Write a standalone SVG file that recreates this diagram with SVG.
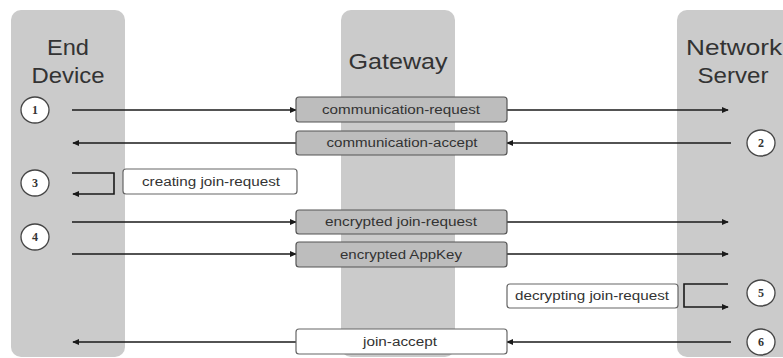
<svg xmlns="http://www.w3.org/2000/svg" width="783" height="358" viewBox="0 0 783 358">
<defs>
<style>
.lane{fill:#cbcbcb}
.title{font-family:"Liberation Sans",Arial,sans-serif;font-size:22px;fill:#333;text-anchor:middle}
.gbox{fill:#bdbdbd;stroke:#555;stroke-width:1.2}
.wbox{fill:#fff;stroke:#666;stroke-width:1.2}
.lbl{font-family:"Liberation Sans",Arial,sans-serif;font-size:12px;fill:#333;text-anchor:middle}
.num{fill:#fff;stroke:#444;stroke-width:1.3}
.numt{font-family:"Liberation Serif","Times New Roman",serif;font-size:12px;font-weight:bold;fill:#333;text-anchor:middle}
.ln{fill:none;stroke:#1a1a1a;stroke-width:1.6}
</style>
<marker id="ah" viewBox="0 0 8 8" refX="7" refY="4" markerWidth="7" markerHeight="7" markerUnits="userSpaceOnUse" orient="auto">
<path d="M0,0.5 L8,4 L0,7.5 Z" fill="#1a1a1a"/>
</marker>
</defs>
<rect width="783" height="358" fill="#fff"/>
<g id="lane-end-device">
<rect class="lane" x="11" y="10" width="114" height="347" rx="10"/>
<text class="title" x="68" y="55" textLength="42" lengthAdjust="spacingAndGlyphs">End</text>
<text class="title" x="68" y="83" textLength="73" lengthAdjust="spacingAndGlyphs">Device</text>
</g>
<g id="lane-gateway">
<rect class="lane" x="341" y="10" width="114" height="347" rx="10"/>
<text class="title" x="398" y="69" textLength="99" lengthAdjust="spacingAndGlyphs">Gateway</text>
</g>
<g id="lane-network-server">
<rect class="lane" x="677" y="10" width="120" height="347" rx="10"/>
<text class="title" x="734" y="55" textLength="96" lengthAdjust="spacingAndGlyphs">Network</text>
<text class="title" x="733" y="83" textLength="71" lengthAdjust="spacingAndGlyphs">Server</text>
</g>
<g id="connectors">
<line class="ln" x1="72" y1="110" x2="296" y2="110" marker-end="url(#ah)"/>
<line class="ln" x1="507" y1="110" x2="728" y2="110" marker-end="url(#ah)"/>
<line class="ln" x1="731" y1="143" x2="507" y2="143" marker-end="url(#ah)"/>
<line class="ln" x1="296" y1="143" x2="73" y2="143" marker-end="url(#ah)"/>
<path class="ln" d="M72,173 H114 V194 H73" marker-end="url(#ah)"/>
<line class="ln" x1="72" y1="222" x2="296" y2="222" marker-end="url(#ah)"/>
<line class="ln" x1="507" y1="222" x2="728" y2="222" marker-end="url(#ah)"/>
<line class="ln" x1="72" y1="254" x2="296" y2="254" marker-end="url(#ah)"/>
<line class="ln" x1="507" y1="254" x2="728" y2="254" marker-end="url(#ah)"/>
<path class="ln" d="M728,284 H684 V307 H728" marker-end="url(#ah)"/>
<line class="ln" x1="731" y1="342" x2="507" y2="342" marker-end="url(#ah)"/>
<line class="ln" x1="296" y1="342" x2="73" y2="342" marker-end="url(#ah)"/>
</g>
<g id="msg-communication-request">
<rect class="gbox" x="296" y="97" width="211" height="25" rx="3"/>
<text class="lbl" x="401" y="114" textLength="158" lengthAdjust="spacingAndGlyphs">communication-request</text>
</g>
<g id="msg-communication-accept">
<rect class="gbox" x="296" y="131" width="211" height="24" rx="3"/>
<text class="lbl" x="402" y="147" textLength="151" lengthAdjust="spacingAndGlyphs">communication-accept</text>
</g>
<g id="note-creating-join-request">
<rect class="wbox" x="123" y="169" width="174" height="25" rx="3"/>
<text class="lbl" x="211" y="186" textLength="138" lengthAdjust="spacingAndGlyphs">creating join-request</text>
</g>
<g id="msg-encrypted-join-request">
<rect class="gbox" x="296" y="210" width="211" height="24" rx="3"/>
<text class="lbl" x="401" y="226" textLength="152" lengthAdjust="spacingAndGlyphs">encrypted join-request</text>
</g>
<g id="msg-encrypted-appkey">
<rect class="gbox" x="296" y="242" width="211" height="25" rx="3"/>
<text class="lbl" x="401" y="259" textLength="122" lengthAdjust="spacingAndGlyphs">encrypted AppKey</text>
</g>
<g id="note-decrypting-join-request">
<rect class="wbox" x="507" y="284" width="171" height="24" rx="3"/>
<text class="lbl" x="592" y="300" textLength="154" lengthAdjust="spacingAndGlyphs">decrypting join-request</text>
</g>
<g id="msg-join-accept">
<rect class="wbox" x="296" y="329" width="211" height="25" rx="3"/>
<text class="lbl" x="400" y="346" textLength="74" lengthAdjust="spacingAndGlyphs">join-accept</text>
</g>
<g id="step-1"><ellipse class="num" cx="35" cy="110" rx="14" ry="13"/><text class="numt" x="35" y="114">1</text></g>
<g id="step-2"><ellipse class="num" cx="761" cy="143" rx="14" ry="13"/><text class="numt" x="761" y="147">2</text></g>
<g id="step-3"><ellipse class="num" cx="35" cy="183" rx="14" ry="13"/><text class="numt" x="35" y="187">3</text></g>
<g id="step-4"><ellipse class="num" cx="35" cy="237" rx="14" ry="13"/><text class="numt" x="35" y="241">4</text></g>
<g id="step-5"><ellipse class="num" cx="761" cy="293" rx="14" ry="13"/><text class="numt" x="761" y="297">5</text></g>
<g id="step-6"><ellipse class="num" cx="761" cy="342" rx="14" ry="13"/><text class="numt" x="761" y="346">6</text></g>
</svg>
